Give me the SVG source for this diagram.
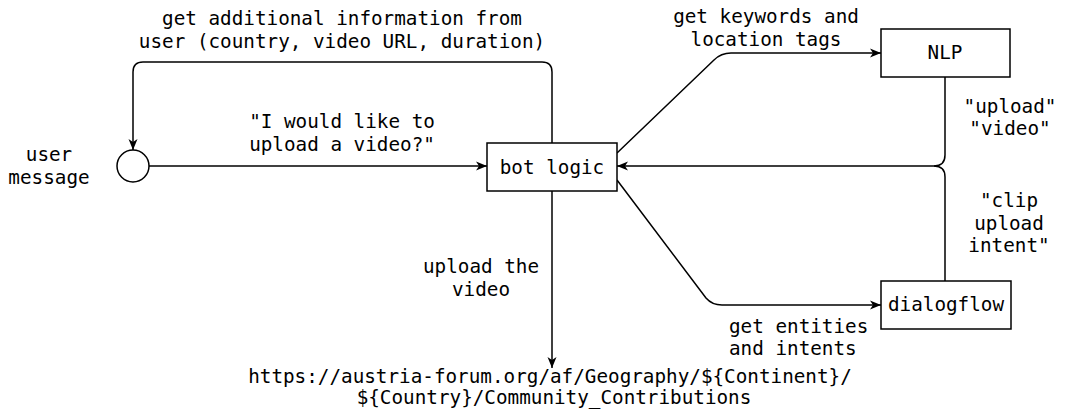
<svg xmlns="http://www.w3.org/2000/svg" width="1065" height="411" viewBox="0 0 1065 411">
  <style>
    text { font-family: "DejaVu Sans Mono", "Liberation Mono", monospace; font-size: 19.3px; fill: #000; }
    .c { text-anchor: middle; }
    .box { fill: #fff; stroke: #000; stroke-width: 1.5; }
    .edge { fill: none; stroke: #000; stroke-width: 1.5; }
  </style>
  <defs>
    <marker id="arrow" markerUnits="userSpaceOnUse" markerWidth="12" markerHeight="10" refX="11" refY="5" orient="auto">
      <path d="M0,0.5 L11,5 L0,9.5 L3,5 Z" fill="#000"/>
    </marker>
  </defs>
  <rect width="1065" height="411" fill="#fff"/>

  <!-- connectors -->
  <g id="connectors">
    <path class="edge" d="M552,143 V72 Q552,62 542,62 H143 Q133,62 133,72 V150" marker-end="url(#arrow)"/>
    <path class="edge" d="M149,166 H487" marker-end="url(#arrow)"/>
    <path class="edge" d="M617,153 L714,60 Q721,53 731,53 H881" marker-end="url(#arrow)"/>
    <path class="edge" d="M617,180 L706,298 Q712,305 722,305 H881" marker-end="url(#arrow)"/>
    <path class="edge" d="M945,77 V155 Q945,166 934,166 H617" marker-end="url(#arrow)"/>
    <path class="edge" d="M945,281 V177 Q945,166 934,166"/>
    <path class="edge" d="M552,191 V368" marker-end="url(#arrow)"/>

    <text class="c" x="342" y="25">get additional information from</text>
    <text class="c" x="342" y="48">user (country, video URL, duration)</text>
    <text class="c" x="342" y="128">"I would like to</text>
    <text class="c" x="342" y="151">upload a video?"</text>
    <text class="c" x="766" y="23">get keywords and</text>
    <text class="c" x="766" y="46">location tags</text>
    <text class="c" x="1010" y="113">"upload"</text>
    <text class="c" x="1010" y="135">"video"</text>
    <text class="c" x="1009" y="207">"clip</text>
    <text class="c" x="1009" y="230">upload</text>
    <text class="c" x="1009" y="252">intent"</text>
    <text x="729" y="333">get entities</text>
    <text x="729" y="355">and intents</text>
    <text class="c" x="481" y="273">upload the</text>
    <text class="c" x="481" y="296">video</text>
  </g>

  <!-- nodes -->
  <g id="user-message">
    <circle cx="133" cy="166" r="16" fill="#fff" stroke="#000" stroke-width="1.5"/>
    <text class="c" x="49" y="161">user</text>
    <text class="c" x="49" y="184">message</text>
  </g>
  <g id="bot-logic">
    <rect class="box" x="487" y="143" width="130" height="48"/>
    <text class="c" x="552" y="174">bot logic</text>
  </g>
  <g id="nlp">
    <rect class="box" x="881" y="29" width="129" height="48"/>
    <text class="c" x="945" y="59">NLP</text>
  </g>
  <g id="dialogflow">
    <rect class="box" x="881" y="281" width="130" height="48"/>
    <text class="c" x="946" y="311">dialogflow</text>
  </g>
  <g id="upload-target">
    <text class="c" x="550" y="383">https://austria-forum.org/af/Geography/${Continent}/</text>
    <text class="c" x="554" y="404">${Country}/Community_Contributions</text>
  </g>
</svg>
